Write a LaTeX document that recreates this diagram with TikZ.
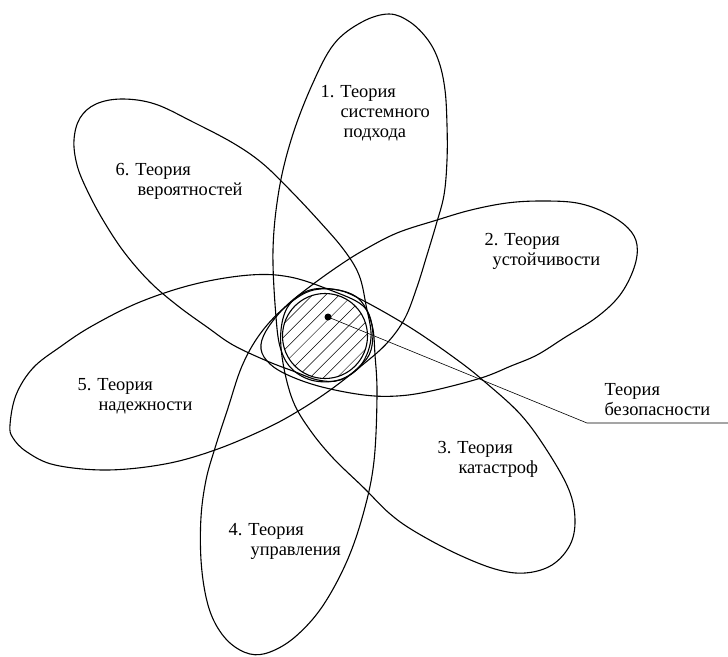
\documentclass[tikz,border=0pt]{standalone}
\usepackage{fontspec}
\setmainfont{Liberation Serif}
\newfontfamily\lblfont{Liberation Serif}

\begin{document}
\begin{tikzpicture}[x=1pt, y=-1pt, line width=1.1pt,
    petal/.style={line join=round},
    lbl/.style={anchor=north west, inner sep=0pt, align=left,
                font=\lblfont\fontsize{18.4}{20}\selectfont}]
    \useasboundingbox (0,0) rectangle (728,656);

    % центр
    \coordinate (center) at (325,336);
    \begin{scope}
        \clip (center) circle (42.5pt);
        \foreach \k in {-5,...,5}
            \draw[line width=0.5pt] (\k*13.4+265,396) -- ++(120,-120);
    \end{scope}
    \draw (center) circle (42.5pt);

    % 1. лепесток сверху
    \draw[petal] plot[smooth cycle, tension=0.6] coordinates {
        (389,14) (410,22) (428,40) (439,62) (445,90) (447,125) (447,160)
        (444,195) (436,225) (427,255) (417,287) (405,318) (388,342)
        (366,362) (342,379) (315,381) (293,370) (281,350) (276,317)
        (273,250) (279,190) (292,137) (312,85) (334,44) (362,22)};

    % 2. лепесток справа
    \draw[petal] plot[smooth cycle, tension=0.6] coordinates {
        (637,245) (634,268) (620,295) (597,317) (564,338) (537,355)
        (511,366) (481,378) (431,391) (397,396) (364,395) (322,387)
        (290,376) (270,364) (261,349) (266,331) (285,307) (312,285)
        (340,265) (364,250) (397,233) (437,220) (471,210)
        (507,203) (541,201) (577,203) (606,213) (628,228)};

    % 3. лепесток справа снизу
    \draw[petal] plot[smooth cycle, tension=0.6] coordinates {
        (569,490) (575,520) (570,545) (552,565) (525,573) (495,569)
        (455,553) (414,531) (389,513) (364,488) (333,458) (310,430)
        (293,401) (283,363) (281,330) (289,305) (310,290) (338,290)
        (364,301) (411,328) (456,359) (485,382) (521,415) (548,452)};

    % 4. лепесток снизу
    \draw[petal] plot[smooth cycle, tension=0.6] coordinates {
        (250,654) (230,643) (215,623) (206,597) (201,560) (201,517)
        (206,480) (215,448) (228,408) (242,366) (260,334) (284,308)
        (310,291) (338,290) (360,300) (372,325) (375,355) (377,395)
        (374,461) (364,511) (347,561) (322,607) (295,637) (270,652)};

    % 5. лепесток слева
    \draw[petal] plot[smooth cycle, tension=0.6] coordinates {
        (10,425) (16,395) (33,368) (60,347) (92,326) (140,302) (195,284)
        (250,275) (290,277) (330,290) (362,305) (372,325) (371,350)
        (360,366) (333,388) (300,410) (265,429) (215,450) (165,464)
        (107,470) (55,465) (27,452) (13,438)};

    % 6. лепесток слева сверху
    \draw[petal] plot[smooth cycle, tension=0.6] coordinates {
        (80,118) (96,104) (122,99) (155,104) (193,122) (233,143)
        (262,163) (290,190) (320,222) (344,250) (359,275) (366,305)
        (371,338) (361,365) (340,380) (318,380) (293,371) (267,361)
        (233,345) (207,327) (178,306) (150,282) (124,252) (103,220)
        (87,190) (77,165) (74,140)};

    % подписи
    \node[lbl] (t1) at (320,84.6) {1. Теория\\\hspace*{20pt}системного\\\hspace*{23pt}подхода};
    \node[lbl] (t2) at (484,232.6) {2. Теория\\\hspace*{8pt}устойчивости};
    \node[lbl] (t3) at (437,440.6) {3. Теория\\\hspace*{21pt}катастроф};
    \node[lbl] (t4) at (228,522.6) {4. Теория\\\hspace*{22pt}управления};
    \node[lbl] (t5) at (77,377.6) {5. Теория\\\hspace*{21pt}надежности};
    \node[lbl] (t6) at (115,162.6) {6. Теория\\\hspace*{22pt}вероятностей};
    \node[lbl] (tb) at (604,382.6) {Теория\\безопасности};

    % выноска
    \coordinate (dot) at (328,317);
    \coordinate (knee) at (587,423);
    \coordinate (lineend) at (728,423);
    \fill (dot) circle (3.5pt);
    \draw[line width=0.6pt] (dot) -- (knee) -- (lineend);
\end{tikzpicture}
\end{document}
